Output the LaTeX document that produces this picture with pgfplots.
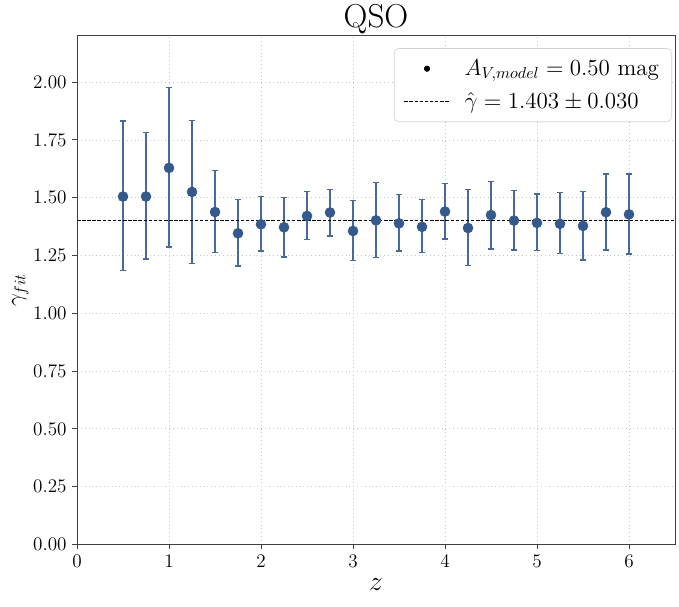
\documentclass[border=0pt]{standalone}
\usepackage{pgfplots}
\pgfplotsset{compat=1.18}
\usepackage{pgfplotstable}
\definecolor{markcol}{RGB}{52,89,141}
\definecolor{errcol}{RGB}{70,105,158}

\pgfplotstableread{
z    g      ep     em
0.50 1.505  0.327  0.320
0.75 1.505  0.278  0.271
1.00 1.629  0.347  0.342
1.25 1.525  0.309  0.310
1.50 1.438  0.180  0.174
1.75 1.346  0.146  0.142
2.00 1.385  0.120  0.115
2.25 1.372  0.130  0.128
2.50 1.421  0.105  0.103
2.75 1.436  0.099  0.101
3.00 1.356  0.131  0.128
3.25 1.402  0.165  0.161
3.50 1.389  0.126  0.119
3.75 1.374  0.118  0.111
4.00 1.440  0.122  0.118
4.25 1.369  0.166  0.162
4.50 1.425  0.146  0.146
4.75 1.401  0.130  0.127
5.00 1.391  0.125  0.120
5.25 1.387  0.135  0.129
5.50 1.378  0.150  0.147
5.75 1.437  0.166  0.163
6.00 1.428  0.175  0.172
}\gfit

\begin{document}
\begin{tikzpicture}
\begin{axis}[
    scale only axis,
    width=374pt, height=318pt,
    clip=false,
    xmin=0, xmax=6.5,
    ymin=0, ymax=2.2,
    xtick={0,1,2,3,4,5,6},
    ytick={0,0.25,0.5,0.75,1,1.25,1.5,1.75,2},
    yticklabel style={/pgf/number format/.cd, fixed, fixed zerofill, precision=2},
    tick label style={font=\fontsize{13}{15}\selectfont},
    tick align=outside,
    major tick length=3pt,
    xtick pos=bottom, ytick pos=left,
    axis line style={black!75, line width=0.6pt},
    tick style={black!75, line width=0.6pt},
    grid=major,
    grid style={gray!45, dotted, line width=0.5pt},
    xlabel={$z$},
    ylabel={$\gamma_{fit}$},
    xlabel style={font=\LARGE},
    ylabel style={font=\Large, yshift=-4pt},
    legend cell align=left,
    legend style={at={(rel axis cs:0.995,0.976)}, anchor=north east,
        draw=gray!35, rounded corners=3pt, fill=white, font=\Large,
        inner xsep=6pt, inner ysep=5pt, row sep=5pt,
        /tikz/every odd column/.append style={column sep=7pt}},
]
\addplot[only marks, mark=*, mark size=3.1pt,
    mark options={fill=markcol, draw=markcol},
    legend image code/.code={\fill[black] (0.5cm,0cm) circle (1.7pt);},
    error bars/.cd, y dir=both, y explicit, error mark=|,
    error bar style={errcol, line width=0.9pt},
    error mark options={errcol, mark size=2.1pt, line width=0.9pt}]
    table[x=z, y=g, y error plus=ep, y error minus=em] {\gfit};
\addlegendentry{$A_{V,model} = 0.50$ mag}
\addplot[black, line width=0.6pt, dash pattern=on 2.2pt off 1pt,
    legend image code/.code={\draw[black, line width=0.6pt, dash pattern=on 2.2pt off 1pt] (0cm,0cm) -- (1cm,0cm);}]
    coordinates {(0,1.403) (6.5,1.403)};
\addlegendentry{$\hat{\gamma} = 1.403 \pm 0.030$}
\node[font=\huge, inner sep=0pt, anchor=base] at (rel axis cs:0.5,1.0165) {QSO};
\path (rel axis cs:-0.1288,-0.1218) rectangle (rel axis cs:1.0067,1.0707);
\end{axis}
\end{tikzpicture}
\end{document}
